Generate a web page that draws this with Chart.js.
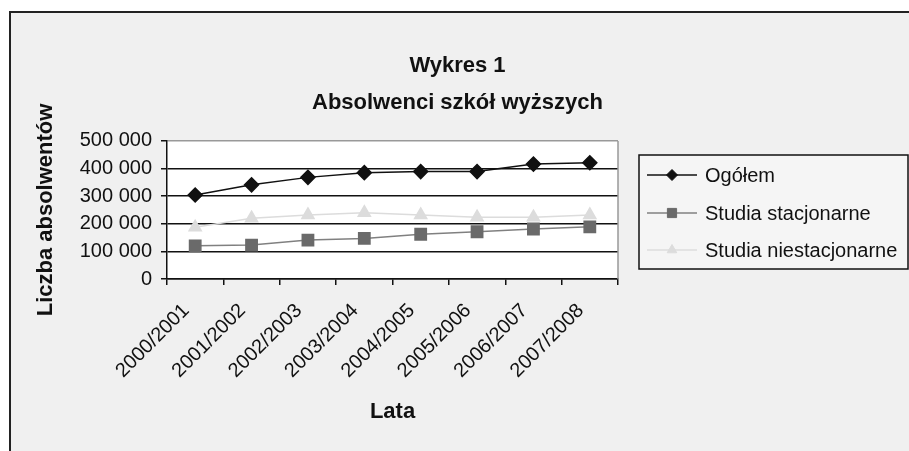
<!DOCTYPE html>
<html>
<head>
<meta charset="utf-8">
<script src="https://cdn.jsdelivr.net/npm/chart.js@4.4.0/dist/chart.umd.min.js"></script>
<style>
  html, body { margin: 0; padding: 0; background: #fff; }
  #wrap { width: 909px; height: 451px; }
</style>
</head>
<body>
<div id="wrap"><canvas id="chart" width="909" height="451"></canvas></div>
<script>
// Data
const lata = ['2000/2001', '2001/2002', '2002/2003', '2003/2004', '2004/2005', '2005/2006', '2006/2007', '2007/2008'];
const ogolem = [304000, 341000, 368000, 385000, 389000, 389000, 416000, 421000];
const stacjonarne = [120000, 123000, 141000, 147000, 162000, 171000, 181000, 189000];
const niestacjonarne = [187000, 220000, 232000, 240000, 232000, 224000, 224000, 232000];
const seriesNames = ['Ogółem', 'Studia stacjonarne', 'Studia niestacjonarne'];
const yTicks = [0, 100000, 200000, 300000, 400000, 500000];

const FONT = "'Liberation Sans', Arial, sans-serif";

// frame, grey background and white plot area
const backdrop = {
    id: 'backdrop',
    beforeDraw(chart) {
        const ctx = chart.ctx;
        const a = chart.chartArea;
        ctx.save();
        ctx.fillStyle = '#ffffff';
        ctx.fillRect(0, 0, chart.width, chart.height);
        ctx.fillStyle = '#f0f0f0';
        ctx.fillRect(10, 12, chart.width - 10, chart.height - 12);
        ctx.strokeStyle = '#222';
        ctx.lineWidth = 2;
        ctx.beginPath();
        ctx.moveTo(10, chart.height);
        ctx.lineTo(10, 12);
        ctx.lineTo(chart.width, 12);
        ctx.stroke();
        ctx.fillStyle = '#ffffff';
        ctx.fillRect(a.left, a.top, a.right - a.left, a.bottom - a.top);
        ctx.restore();
    },
    afterDraw(chart) {
        // grey right edge of the plot area
        const ctx = chart.ctx;
        const a = chart.chartArea;
        ctx.save();
        ctx.strokeStyle = '#999';
        ctx.lineWidth = 1.5;
        ctx.beginPath();
        ctx.moveTo(a.right, a.top);
        ctx.lineTo(a.right, a.bottom);
        ctx.stroke();
        ctx.restore();
    }
};

// legend in a bordered box to the right, like the spreadsheet one
const boxLegend = {
    id: 'boxLegend',
    afterDraw(chart) {
        const ctx = chart.ctx;
        const x0 = 639, y0 = 155, w = 269, h = 114;
        ctx.save();
        ctx.fillStyle = '#f5f5f5';
        ctx.fillRect(x0, y0, w, h);
        ctx.strokeStyle = '#111';
        ctx.lineWidth = 1.5;
        ctx.strokeRect(x0, y0, w, h);
        const rows = [175, 213, 250];
        chart.data.datasets.forEach((ds, i) => {
            const y = rows[i];
            ctx.strokeStyle = ds.borderColor;
            ctx.lineWidth = 1.5;
            ctx.beginPath();
            ctx.moveTo(647, y);
            ctx.lineTo(697, y);
            ctx.stroke();
            ctx.fillStyle = ds.pointBackgroundColor;
            ctx.strokeStyle = ds.pointBorderColor;
            ctx.lineWidth = 1;
            Chart.helpers.drawPoint(ctx, {
                pointStyle: ds.pointStyle,
                radius: ds.pointRadius - 1.5,
                borderWidth: 1
            }, 672, y);
            ctx.fillStyle = '#111';
            ctx.font = '20px ' + FONT;
            ctx.textBaseline = 'middle';
            ctx.textAlign = 'left';
            ctx.fillText(ds.label, 705, y + 1);
        });
        ctx.restore();
    }
};

new Chart(document.getElementById('chart'), {
    type: 'line',
    data: {
        labels: lata,
        datasets: [{
            label: seriesNames[0],
            data: ogolem,
            borderColor: '#111',
            borderWidth: 1.5,
            pointStyle: 'rectRot',
            pointRadius: 7,
            pointBackgroundColor: '#111',
            pointBorderColor: '#111',
            order: 1
        }, {
            label: seriesNames[1],
            data: stacjonarne,
            borderColor: '#808080',
            borderWidth: 1.5,
            pointStyle: 'rect',
            pointRadius: 8,
            pointBackgroundColor: '#6a6a6a',
            pointBorderColor: '#6a6a6a',
            order: 2
        }, {
            label: seriesNames[2],
            data: niestacjonarne,
            borderColor: '#dcdcdc',
            borderWidth: 1.5,
            pointStyle: 'triangle',
            pointRadius: 7,
            pointBackgroundColor: '#dcdcdc',
            pointBorderColor: '#dcdcdc',
            order: 3
        }]
    },
    options: {
        responsive: false,
        animation: false,
        layout: { padding: { left: 10, right: 4, top: 0, bottom: 0 } },
        plugins: {
            legend: { display: false },
            tooltip: { enabled: false },
            title: {
                display: true,
                text: ['Wykres 1', 'Absolwenci szkół wyższych'],
                color: '#111',
                font: { family: FONT, size: 22, weight: 'bold', lineHeight: 1.68 },
                padding: { top: 47, bottom: 20 }
            }
        },
        scales: {
            x: {
                offset: true,
                afterFit(scale) { scale.height = 172; },
                grid: { drawOnChartArea: false, offset: true, tickLength: 6, color: '#111', lineWidth: 1.5 },
                border: { color: '#111', width: 1.5 },
                ticks: {
                    color: '#111',
                    font: { family: FONT, size: 20 },
                    maxRotation: 45,
                    minRotation: 45,
                    padding: 14,
                    labelOffset: -9
                },
                title: {
                    display: true,
                    text: 'Lata',
                    color: '#111',
                    font: { family: FONT, size: 22, weight: 'bold' },
                    padding: { top: 4, bottom: 26 }
                }
            },
            y: {
                min: 0,
                max: 500000,
                afterFit(scale) { scale.width = 157; },
                afterBuildTicks(scale) { scale.ticks = yTicks.map(v => ({ value: v })); },
                grid: {
                    color: ctx => (ctx.tick && ctx.tick.value === 500000) ? '#999' : '#111',
                    tickColor: '#111',
                    lineWidth: 1.5,
                    tickLength: 6
                },
                border: { color: '#111', width: 1.5 },
                ticks: {
                    color: '#111',
                    font: { family: FONT, size: 20 },
                    padding: 9,
                    callback: v => v === 0 ? '0' : (v / 1000) + ' 000'
                },
                title: {
                    display: true,
                    text: 'Liczba absolwentów',
                    color: '#111',
                    font: { family: FONT, size: 22, weight: 'bold' },
                    padding: { top: 23, bottom: 4 }
                }
            },
            // empty axis on the right keeps room for the boxed legend
            side: {
                type: 'linear',
                position: 'right',
                display: true,
                afterFit(scale) { scale.width = 287; },
                grid: { display: false },
                border: { display: false },
                ticks: { display: false }
            }
        }
    },
    plugins: [backdrop, boxLegend]
});
</script>
</body>
</html>
